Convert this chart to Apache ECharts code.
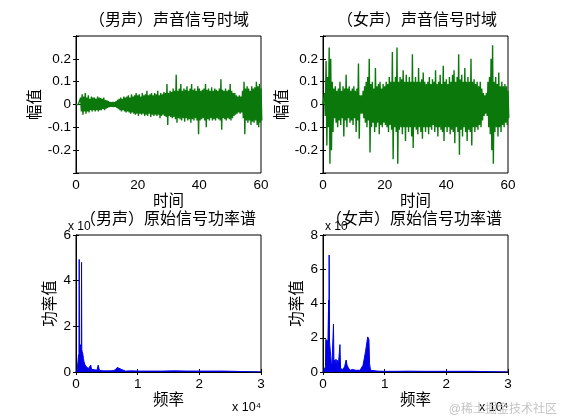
<!DOCTYPE html>
<html><head><meta charset="utf-8">
<script src="https://cdn.jsdelivr.net/npm/echarts@6/dist/echarts.min.js"></script>
<style>html,body{margin:0;padding:0;background:#fff}#c{width:561px;height:420px}</style>
</head><body><div id="c"></div>
<script>
// ---------------- data ----------------
const panelTitles = ['（男声）声音信号时域', '（女声）声音信号时域', '（男声）原始信号功率谱', '（女声）原始信号功率谱'];
const xNames = ['时间', '时间', '频率', '频率'];
const yNames = ['幅值', '幅值', '功率值', '功率值'];
const sampleStep = 0.5; // seconds between envelope readings (t = 0 .. 60)

// positive / negative peaks of the male waveform, every 0.5 s
const maleTop = [0,0,0,0.03,0.045,0.035,0.05,0.03,0.04,0.025,0.035,0.03,0.03,0.025,0.035,0.03,0.028,0.025,0.03,0.02,
  0.018,0.015,0.012,0.01,0.012,0.01,0.015,0.02,0.025,0.03,0.025,0.035,0.03,0.035,0.04,0.03,0.045,0.035,0.04,0.05,
  0.04,0.045,0.035,0.05,0.04,0.045,0.06,0.04,0.045,0.05,0.04,0.05,0.045,0.06,0.04,0.05,0.045,0.055,0.05,0.09,
  0.05,0.06,0.055,0.07,0.06,0.13,0.06,0.07,0.09,0.06,0.07,0.065,0.08,0.06,0.07,0.09,0.065,0.07,0.06,0.08,
  0.07,0.06,0.065,0.07,0.09,0.065,0.07,0.06,0.075,0.06,0.07,0.065,0.06,0.07,0.11,0.065,0.06,0.07,0.06,0.065,
  0.09,0.06,0.05,0.05,0.04,0.035,0.04,0.035,0.06,0.1,0.07,0.08,0.07,0.06,0.08,0.07,0.075,0.1,0.08,0.09,0.07];
const maleBottom = [0,0,0,-0.03,-0.045,-0.03,-0.04,-0.03,-0.035,-0.025,-0.03,-0.025,-0.03,-0.025,-0.03,-0.025,-0.025,-0.02,-0.025,-0.018,
  -0.015,-0.012,-0.01,-0.01,-0.012,-0.01,-0.015,-0.02,-0.025,-0.03,-0.025,-0.03,-0.035,-0.03,-0.035,-0.04,-0.035,-0.04,-0.045,-0.04,
  -0.05,-0.04,-0.045,-0.04,-0.05,-0.045,-0.05,-0.04,-0.055,-0.045,-0.05,-0.045,-0.05,-0.045,-0.06,-0.05,-0.045,-0.05,-0.055,-0.09,
  -0.05,-0.055,-0.06,-0.055,-0.065,-0.08,-0.06,-0.065,-0.07,-0.06,-0.075,-0.06,-0.07,-0.065,-0.08,-0.065,-0.07,-0.06,-0.07,-0.13,
  -0.07,-0.065,-0.06,-0.07,-0.1,-0.065,-0.07,-0.06,-0.07,-0.065,-0.07,-0.06,-0.065,-0.07,-0.11,-0.06,-0.065,-0.07,-0.06,-0.065,
  -0.07,-0.06,-0.05,-0.045,-0.04,-0.035,-0.04,-0.035,-0.06,-0.13,-0.07,-0.08,-0.07,-0.09,-0.075,-0.08,-0.07,-0.09,-0.1,-0.08,-0.07];

// positive / negative peaks of the female waveform, every 0.5 s
const femaleTop = [0,0.05,0.19,0.12,0.25,0.2,0.1,0.07,0.08,0.06,0.07,0.1,0.06,0.08,0.07,0.13,0.07,0.08,0.06,0.07,
  0.08,0.06,0.07,0.18,0.04,0.04,0.06,0.08,0.1,0.12,0.2,0.09,0.1,0.07,0.16,0.08,0.09,0.1,0.07,0.09,
  0.08,0.1,0.09,0.12,0.1,0.23,0.1,0.12,0.25,0.1,0.12,0.11,0.15,0.1,0.13,0.1,0.12,0.1,0.22,0.1,
  0.12,0.1,0.16,0.1,0.11,0.14,0.1,0.09,0.1,0.12,0.09,0.11,0.1,0.15,0.09,0.1,0.13,0.09,0.17,0.1,
  0.11,0.09,0.12,0.1,0.13,0.15,0.1,0.12,0.22,0.11,0.13,0.1,0.16,0.1,0.12,0.1,0.2,0.1,0.11,0.09,
  0.1,0.08,0.1,0.07,0.05,0.04,0.05,0.1,0.12,0.2,0.26,0.1,0.12,0.09,0.14,0.08,0.1,0.08,0.09,0.08,0.06];
const femaleBottom = [0,-0.05,-0.18,-0.1,-0.26,-0.2,-0.12,-0.06,-0.08,-0.1,-0.07,-0.09,-0.06,-0.14,-0.07,-0.1,-0.06,-0.08,-0.07,-0.09,
  -0.06,-0.12,-0.07,-0.15,-0.04,-0.04,-0.06,-0.08,-0.1,-0.07,-0.21,-0.1,-0.08,-0.12,-0.1,-0.08,-0.13,-0.09,-0.1,-0.08,
  -0.09,-0.1,-0.12,-0.09,-0.11,-0.24,-0.1,-0.12,-0.26,-0.11,-0.1,-0.13,-0.1,-0.16,-0.1,-0.12,-0.1,-0.14,-0.19,-0.1,
  -0.11,-0.13,-0.1,-0.12,-0.15,-0.1,-0.12,-0.1,-0.13,-0.1,-0.11,-0.09,-0.12,-0.1,-0.14,-0.1,-0.11,-0.12,-0.16,-0.1,
  -0.12,-0.1,-0.13,-0.11,-0.12,-0.17,-0.1,-0.12,-0.22,-0.11,-0.14,-0.1,-0.12,-0.16,-0.11,-0.12,-0.18,-0.1,-0.12,-0.1,
  -0.11,-0.09,-0.1,-0.07,-0.05,-0.04,-0.05,-0.1,-0.13,-0.2,-0.26,-0.12,-0.1,-0.14,-0.1,-0.12,-0.09,-0.1,-0.08,-0.09,-0.06];

// power spectra (frequency in Hz, power in units of the axis multiplier)
const maleFreq = [0,100,200,300,400,480,520,560,600,650,700,750,800,860,900,940,1000,1100,1200,1300,1400,1500,1600,1800,2000,
  2200,2400,2500,2600,2800,3000,3200,3400,3600,3800,4000,4500,5000,5500,6000,6400,6700,7000,7300,7600,8000,9000,10000,
  12000,14000,16000,18000,20000,22000,23900,24000,30000];
const malePow = [0,0.05,0.1,0.4,0.7,0.8,4.93,0.9,1.0,1.1,1.2,1.25,1.1,1.2,4.8,1.0,0.9,0.8,0.6,0.45,0.35,0.3,0.25,0.2,0.15,
  0.12,0.3,0.12,0.1,0.08,0.1,0.06,0.08,0.3,0.07,0.06,0.05,0.05,0.05,0.06,0.1,0.2,0.28,0.12,0.06,0.04,0.05,0.04,
  0.04,0.04,0.05,0.04,0.04,0.04,0.04,0,0];
const femaleFreq = [0,200,400,450,500,600,700,800,880,920,960,1000,1050,1150,1250,1350,1450,1550,1700,1780,1900,2000,2100,2200,
  2300,2450,2600,2750,2850,3000,3200,3500,3750,3900,4100,4400,4800,5000,5300,5600,6000,6300,6500,6700,6900,7100,7250,
  7350,7450,7550,7700,8000,9000,10000,12000,14000,16000,18000,20000,22000,23900,24000,30000];
const femalePow = [0,0.1,0.3,1.9,1.85,1.8,1.85,1.8,1.9,4.2,1.8,6.83,1.8,1.8,1.7,0.5,0.3,0.3,2.8,0.4,0.7,0.3,0.75,0.3,
  0.7,0.2,0.3,1.6,0.2,0.1,0.15,0.3,0.7,0.4,0.25,0.1,0.15,0.2,0.1,0.15,0.1,0.1,0.4,0.8,1.2,1.7,2.05,
  2.1,1.9,0.5,0.1,0.05,0.05,0.04,0.04,0.05,0.04,0.04,0.04,0.04,0.04,0,0];

const timeTicks = { min: 0, max: 60, interval: 20 };
const ampTicks = { min: -0.3, max: 0.3, interval: 0.1 };
const freqTicks = { min: 0, max: 30000, interval: 10000 };
const maleSpecTicks = { min: 0, max: 6, interval: 2 };
const femaleSpecTicks = { min: 0, max: 8, interval: 2 };

// ---------------- chart ----------------
const FONT = "'Liberation Sans', 'Noto Sans CJK SC', sans-serif";
const GREEN = '#0a780a';
const BLUE = '#0000e6';

function zig(top, bottom) {
  const d = [];
  for (let i = 0; i < top.length; i++) {
    d.push([i * sampleStep, top[i]]);
    d.push([i * sampleStep + sampleStep / 2, bottom[i]]);
  }
  return d;
}
function pairs(xs, ys) { return xs.map((x, i) => [x, ys[i]]); }

const grids = [
  { left: 76, top: 36, width: 185, height: 137 },
  { left: 323, top: 36, width: 185, height: 137 },
  { left: 76, top: 235, width: 185, height: 137 },
  { left: 323, top: 235, width: 185, height: 137 }
];
const xT = [timeTicks, timeTicks, freqTicks, freqTicks];
const yT = [ampTicks, ampTicks, maleSpecTicks, femaleSpecTicks];
const yNameGap = [32, 32, 18, 18];

const xAxes = [], yAxes = [];
const lab = { color: '#000', fontFamily: FONT, fontSize: 13.5 };
const line = { lineStyle: { color: '#000', width: 1 } };
for (let g = 0; g < 4; g++) {
  xAxes.push(Object.assign({
    gridIndex: g, type: 'value', position: 'bottom',
    axisLine: line, axisTick: { inside: true, length: 3, lineStyle: { color: '#000' } },
    splitLine: { show: false },
    axisLabel: Object.assign({ margin: 6, formatter: g < 2 ? (v => String(v)) : (v => String(Math.round(v / 10000))) }, lab),
    name: xNames[g], nameLocation: 'middle', nameGap: 21,
    nameTextStyle: { color: '#000', fontFamily: FONT, fontSize: 15.5 }
  }, xT[g]));
  yAxes.push(Object.assign({
    gridIndex: g, type: 'value', position: 'left',
    axisLine: line, axisTick: { inside: true, length: 3, lineStyle: { color: '#000' } },
    splitLine: { show: false },
    axisLabel: Object.assign({ margin: 5, formatter: v => (g < 2 && Math.abs(v) > 0.25) ? '' : String(Math.round(v * 10) / 10) }, lab),
    name: yNames[g], nameLocation: 'middle', nameGap: yNameGap[g],
    nameTextStyle: { color: '#000', fontFamily: FONT, fontSize: 15.5 }
  }, yT[g]));
}
for (let g = 0; g < 4; g++) {
  xAxes.push(Object.assign({
    gridIndex: g, type: 'value', position: 'top',
    axisLine: line, axisTick: { inside: true, length: 3, lineStyle: { color: '#000' } },
    axisLabel: { show: false }, splitLine: { show: false }
  }, xT[g]));
  yAxes.push(Object.assign({
    gridIndex: g, type: 'value', position: 'right',
    axisLine: line, axisTick: { inside: true, length: 3, lineStyle: { color: '#000' } },
    axisLabel: { show: false }, splitLine: { show: false }
  }, yT[g]));
}

const series = [
  { type: 'line', xAxisIndex: 0, yAxisIndex: 0, data: zig(maleTop, maleBottom), color: GREEN, lw: 1.4 },
  { type: 'line', xAxisIndex: 1, yAxisIndex: 1, data: zig(femaleTop, femaleBottom), color: GREEN, lw: 1.4 },
  { type: 'line', xAxisIndex: 2, yAxisIndex: 2, data: pairs(maleFreq, malePow), color: BLUE, lw: 1, areaStyle: { color: BLUE, opacity: 1 } },
  { type: 'line', xAxisIndex: 3, yAxisIndex: 3, data: pairs(femaleFreq, femalePow), color: BLUE, lw: 1, areaStyle: { color: BLUE, opacity: 1 } }
].map(s => Object.assign({ showSymbol: false, symbol: 'none', clip: true, animation: false, sampling: null,
  lineStyle: { width: s.lw, color: s.color } }, s));

const tstyle = (text, x, y, size, align, color) => ({
  type: 'text', x: x, y: y, z: 100,
  style: { text: text, fill: color || '#000', font: size + 'px ' + FONT, textAlign: align || 'center', textVerticalAlign: 'middle' }
});

const graphic = [
  tstyle(panelTitles[0], 169, 21, 16),
  tstyle(panelTitles[1], 417, 21, 16),
  tstyle('x 10', 68, 227, 12, 'left'),
  tstyle('x 10', 325, 227, 12, 'left'),
  tstyle(panelTitles[2], 168, 220, 16),
  tstyle(panelTitles[3], 414, 220, 16),
  tstyle('x 10⁴', 232, 408, 12.5, 'left'),
  tstyle('x 10⁴', 479, 408, 12.5, 'left'),
  tstyle('@稀土掘金技术社区', 557, 410, 12, 'right', '#c4c4c4')
];

const chart = echarts.init(document.getElementById('c'), null, { renderer: 'canvas' });
chart.setOption({
  animation: false,
  backgroundColor: '#fff',
  grid: grids.map(g => Object.assign({ show: true, borderColor: '#000', borderWidth: 1, containLabel: false }, g)),
  xAxis: xAxes,
  yAxis: yAxes,
  series: series,
  graphic: graphic
});
</script>
</body></html>
